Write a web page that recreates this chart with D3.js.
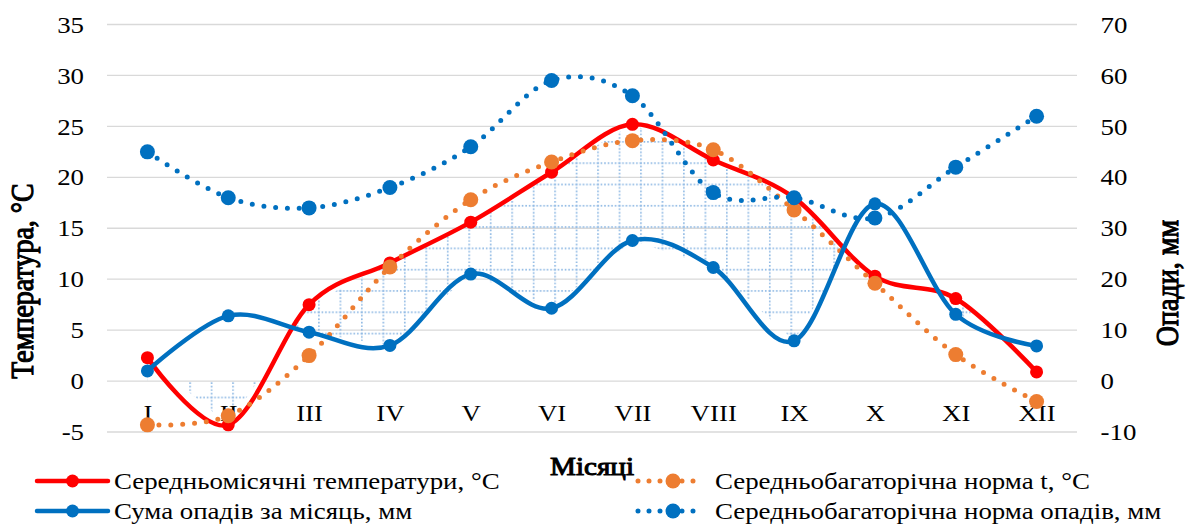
<!DOCTYPE html>
<html>
<head>
<meta charset="utf-8">
<script src="https://cdn.jsdelivr.net/npm/d3@7"></script>
<style>
  body { margin: 0; background: #fff; }
  text { font-family: "Liberation Serif", "Times New Roman", serif; fill: #000; }
</style>
</head>
<body>
<script>
// months and series
const months = ["I", "II", "III", "IV", "V", "VI", "VII", "VIII", "IX", "X", "XI", "XII"];
const tempMonth = [2.3, -4.3, 7.5, 11.6, 15.6, 20.5, 25.2, 21.7, 18.0, 10.3, 8.1, 0.9];
const tempNorm = [-4.3, -3.4, 2.5, 11.2, 17.8, 21.5, 23.6, 22.7, 16.8, 9.6, 2.6, -2.0];
const precMonth = [2, 12.8, 9.6, 7, 21, 14.3, 27.6, 22.3, 7.9, 34.8, 13.1, 6.9];
const precNorm = [45, 36, 34, 38, 46, 59, 56, 37, 36, 32, 42, 52];
const tempTicks = [-5, 0, 5, 10, 15, 20, 25, 30, 35];
const precTicks = [-10, 0, 10, 20, 30, 40, 50, 60, 70];

const W = 1186, H = 524;
const plotL = 107, plotR = 1077, plotT = 24.5, plotB = 432;
const sx = 1.12; // text in the picture is a little wider than tall

const svg = d3.select("body").append("svg")
  .attr("width", W).attr("height", H);

const x = d3.scalePoint().domain(months).range([plotL, plotR]).padding(0.5);
const yT = d3.scaleLinear().domain([-5, 35]).range([plotB, plotT]);
const yP = d3.scaleLinear().domain([-10, 70]).range([plotB, plotT]);

// gridlines
svg.append("g").selectAll("line").data(tempTicks).join("line")
  .attr("x1", plotL).attr("x2", plotR)
  .attr("y1", d => yT(d)).attr("y2", d => yT(d))
  .attr("stroke", "#d9d9d9").attr("stroke-width", 1.3);

// hatch pattern + mask for the dry period
const defs = svg.append("defs");
const pat = defs.append("pattern").attr("id", "hatch")
  .attr("patternUnits", "userSpaceOnUse")
  .attr("x", 17.5).attr("y", 13.2)
  .attr("width", 21.47).attr("height", 21.3);
pat.append("line").attr("x1", 0).attr("x2", 21.47).attr("y1", 0.8).attr("y2", 0.8)
  .attr("stroke", "#8fb9e4").attr("stroke-width", 1.7).attr("stroke-dasharray", "1.6 1.9");
pat.append("line").attr("x1", 0.8).attr("x2", 0.8).attr("y1", 0).attr("y2", 21.3)
  .attr("stroke", "#8fb9e4").attr("stroke-width", 1.7).attr("stroke-dasharray", "1.6 1.9");

const mask = defs.append("mask").attr("id", "dryMask");
mask.append("rect").attr("x", 0).attr("y", 0).attr("width", W).attr("height", H).attr("fill", "#fff");
mask.append("path")
  .datum(precMonth)
  .attr("d", d3.area().x((d, i) => x(months[i])).y0(yP(0)).y1(d => yP(d)))
  .attr("fill", "#000");

svg.append("path")
  .datum(tempMonth)
  .attr("d", d3.area().x((d, i) => x(months[i])).y0(yT(0)).y1(d => yT(d)))
  .attr("fill", "url(#hatch)")
  .attr("mask", "url(#dryMask)");

// axes
const fs = 24;
const styleTicks = sel => sel.selectAll("text")
  .attr("font-size", fs).attr("font-family", "Liberation Serif")
  .attr("transform", `scale(${sx},1)`);

const catAxis = svg.append("g").attr("transform", `translate(0,404)`)
  .call(d3.axisBottom(x).tickSize(0).tickPadding(0));
catAxis.select(".domain").remove();
styleTicks(catAxis);

const lAxis = svg.append("g").attr("transform", `translate(${plotL},0)`)
  .call(d3.axisLeft(yT).tickValues(tempTicks).tickFormat(d => String(d)).tickSize(0).tickPadding(20.5));
lAxis.select(".domain").remove();
styleTicks(lAxis);

const rAxis = svg.append("g").attr("transform", `translate(${plotR},0)`)
  .call(d3.axisRight(yP).tickValues(precTicks).tickFormat(d => String(d)).tickSize(0).tickPadding(21));
rAxis.select(".domain").remove();
styleTicks(rAxis);

// axis titles (bold drawn with a thin stroke so the serif face is kept)
const boldText = sel => sel.attr("font-size", 28).attr("stroke", "#000").attr("stroke-width", 1)
  .attr("text-anchor", "middle");
svg.append("text").attr("transform", `translate(33,281) scale(${sx},1) rotate(-90)`)
  .call(boldText).text("Температура, °C");
svg.append("text").attr("transform", `translate(1178,283) scale(${sx},1) rotate(-90)`)
  .call(boldText).text("Опади, мм");
svg.append("text").attr("transform", `translate(592,475) scale(${sx},1)`)
  .call(boldText).attr("font-size", 26).text("Місяці");

// series
const series = [
  { name: "Середньомісячні температури, °C", data: tempMonth, y: yT, color: "#ff0000", dash: null, r: 6.5 },
  { name: "Середньобагаторічна норма t, °C", data: tempNorm, y: yT, color: "#ed7d31", dash: "0 11.8", r: 7.5 },
  { name: "Сума опадів за місяць, мм", data: precMonth, y: yP, color: "#0070c0", dash: null, r: 6.5 },
  { name: "Середньобагаторічна норма опадів, мм", data: precNorm, y: yP, color: "#0070c0", dash: "0 11.8", r: 7.5 }
];

series.forEach(s => {
  const g = svg.append("g");
  g.append("path")
    .datum(s.data)
    .attr("d", d3.line().x((d, i) => x(months[i])).y(d => s.y(d)).curve(d3.curveCardinal.tension(0)))
    .attr("fill", "none")
    .attr("stroke", s.color)
    .attr("stroke-width", s.dash ? 5 : 4.5)
    .attr("stroke-linecap", "round")
    .attr("stroke-dasharray", s.dash);
  g.selectAll("circle").data(s.data).join("circle")
    .attr("cx", (d, i) => x(months[i]))
    .attr("cy", d => s.y(d))
    .attr("r", s.r)
    .attr("fill", s.color);
});

// legend
const legendPos = [
  { x: 37, y: 481 }, { x: 638, y: 481 }, { x: 37, y: 511 }, { x: 638, y: 511 }
];
series.forEach((s, i) => {
  const p = legendPos[i];
  const lg = svg.append("g").attr("transform", `translate(${p.x},${p.y})`);
  const len = s.dash ? 64 : 71;
  lg.append("line").attr("x1", 0).attr("x2", len).attr("y1", 0).attr("y2", 0)
    .attr("stroke", s.color).attr("stroke-width", s.dash ? 5 : 4.5)
    .attr("stroke-linecap", "round").attr("stroke-dasharray", s.dash ? "0 11" : null);
  lg.append("circle").attr("cx", len / 2 + (s.dash ? 3 : 0)).attr("cy", 0).attr("r", s.r).attr("fill", s.color);
  lg.append("text").attr("transform", `translate(77,8) scale(${sx},1)`)
    .attr("font-size", 24).text(s.name);
});
</script>
</body>
</html>
